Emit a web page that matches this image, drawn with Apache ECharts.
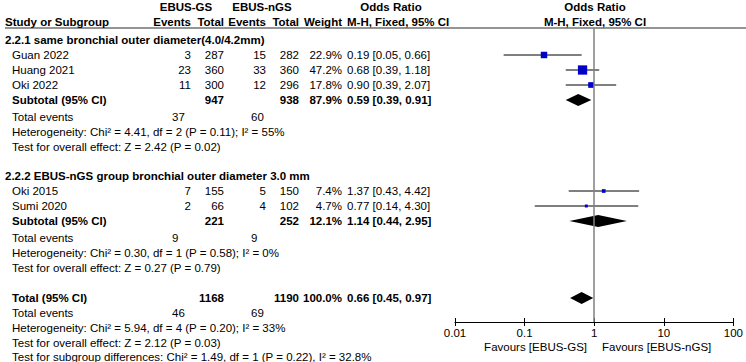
<!DOCTYPE html>
<html>
<head>
<meta charset="utf-8">
<script src="https://cdn.jsdelivr.net/npm/echarts@6/dist/echarts.min.js"></script>
<style>
html, body { margin: 0; padding: 0; background: #fff; }
#main { width: 746px; height: 362px; }
</style>
</head>
<body>
<div id="main"></div>
<script>
// study rows
const studies = ['Guan 2022', 'Huang 2021', 'Oki 2022', 'Oki 2015', 'Sumi 2020'];
const studyGroup = [0, 0, 0, 1, 1];
const gsEvents = [3, 23, 11, 7, 2];
const gsTotal = [287, 360, 300, 155, 66];
const ngsEvents = [15, 33, 12, 5, 4];
const ngsTotal = [282, 360, 296, 150, 102];
const weights = [22.9, 47.2, 17.8, 7.4, 4.7];
const oddsRatio = [0.19, 0.68, 0.90, 1.37, 0.77];
const ciLow = [0.05, 0.39, 0.39, 0.43, 0.14];
const ciHigh = [0.66, 1.18, 2.07, 4.42, 4.30];

// subgroups
const groupTitles = ['2.2.1 same bronchial outer diameter(4.0/4.2mm)', '2.2.2 EBUS-nGS group bronchial outer diameter 3.0 mm'];
const groupGsTotal = [947, 221];
const groupNgsTotal = [938, 252];
const groupWeight = [87.9, 12.1];
const groupOR = [0.59, 1.14];
const groupLow = [0.39, 0.44];
const groupHigh = [0.91, 2.95];
const groupGsEvents = [37, 9];
const groupNgsEvents = [60, 9];
const groupHet = ['Chi² = 4.41, df = 2 (P = 0.11); I² = 55%', 'Chi² = 0.30, df = 1 (P = 0.58); I² = 0%'];
const groupZ = ['Z = 2.42 (P = 0.02)', 'Z = 0.27 (P = 0.79)'];

// overall
const totalGs = 1168, totalNgs = 1190, totalWeight = 100.0;
const totalOR = 0.66, totalLow = 0.45, totalHigh = 0.97;
const totalGsEvents = 46, totalNgsEvents = 69;
const totalHet = 'Chi² = 5.94, df = 4 (P = 0.20); I² = 33%';
const totalZ = 'Z = 2.12 (P = 0.03)';
const subgroupDiff = 'Chi² = 1.49, df = 1 (P = 0.22), I² = 32.8%';

const tickLabels = ['0.01', '0.1', '1', '10', '100'];
const favours = ['Favours [EBUS-GS]', 'Favours [EBUS-nGS]'];

// layout: vertical position (px) of each text line, top to bottom
const lineY = [7, 22, 40, 55, 70, 85, 100, 117, 132, 147, 176, 191, 206, 221, 238, 253, 268, 298, 313, 328, 343, 357];
const col = { name: 12, head: 5, ev1: 191, tot1: 224, ev2: 266, tot2: 299, wt: 342, or: 347, tev1: 172, tev2: 251 };
const FONT = '"Liberation Sans", Arial, sans-serif';
const FS = 11.5;

function fmtOR(o, l, h) {
    return o.toFixed(2) + ' [' + l.toFixed(2) + ', ' + h.toFixed(2) + ']';
}

// build table cells + plot rows
var cells = [];
var studyRows = [];
var diamondRows = [];
function cell(x, y, text, align, bold) {
    cells.push({ value: [x, y], text: String(text), align: align, bold: !!bold });
}

cell(186, lineY[0], 'EBUS-GS', 'center', true);
cell(262, lineY[0], 'EBUS-nGS', 'center', true);
cell(391, lineY[0], 'Odds Ratio', 'center', true);
cell(595, lineY[0], 'Odds Ratio', 'center', true);
cell(col.head, lineY[1], 'Study or Subgroup', 'left', true);
cell(col.ev1, lineY[1], 'Events', 'right', true);
cell(col.tot1, lineY[1], 'Total', 'right', true);
cell(col.ev2, lineY[1], 'Events', 'right', true);
cell(col.tot2, lineY[1], 'Total', 'right', true);
cell(col.wt, lineY[1], 'Weight', 'right', true);
cell(col.or, lineY[1], 'M-H, Fixed, 95% CI', 'left', true);
cell(595, lineY[1], 'M-H, Fixed, 95% CI', 'center', true);

var k = 2;
for (let g = 0; g < groupTitles.length; g++) {
    cell(col.head, lineY[k++], groupTitles[g], 'left', true);
    for (let i = 0; i < studies.length; i++) {
        if (studyGroup[i] !== g) continue;
        var y = lineY[k++];
        cell(col.name, y, studies[i], 'left');
        cell(col.ev1, y, gsEvents[i], 'right');
        cell(col.tot1, y, gsTotal[i], 'right');
        cell(col.ev2, y, ngsEvents[i], 'right');
        cell(col.tot2, y, ngsTotal[i], 'right');
        cell(col.wt, y, weights[i].toFixed(1) + '%', 'right');
        cell(col.or, y, fmtOR(oddsRatio[i], ciLow[i], ciHigh[i]), 'left');
        studyRows.push([oddsRatio[i], y, ciLow[i], ciHigh[i], weights[i]]);
    }
    var ys = lineY[k++];
    cell(col.name, ys, 'Subtotal (95% CI)', 'left', true);
    cell(col.tot1, ys, groupGsTotal[g], 'right', true);
    cell(col.tot2, ys, groupNgsTotal[g], 'right', true);
    cell(col.wt, ys, groupWeight[g].toFixed(1) + '%', 'right', true);
    cell(col.or, ys, fmtOR(groupOR[g], groupLow[g], groupHigh[g]), 'left', true);
    diamondRows.push([groupOR[g], ys, groupLow[g], groupHigh[g]]);
    var ye = lineY[k++];
    cell(col.name, ye, 'Total events', 'left');
    cell(col.tev1, ye, groupGsEvents[g], 'left');
    cell(col.tev2, ye, groupNgsEvents[g], 'left');
    cell(col.name, lineY[k++], 'Heterogeneity: ' + groupHet[g], 'left');
    cell(col.name, lineY[k++], 'Test for overall effect: ' + groupZ[g], 'left');
}
var yt = lineY[k++];
cell(col.name, yt, 'Total (95% CI)', 'left', true);
cell(col.tot1, yt, totalGs, 'right', true);
cell(col.tot2, yt, totalNgs, 'right', true);
cell(col.wt, yt, totalWeight.toFixed(1) + '%', 'right', true);
cell(col.or, yt, fmtOR(totalOR, totalLow, totalHigh), 'left', true);
diamondRows.push([totalOR, yt, totalLow, totalHigh]);
var yte = lineY[k++];
cell(col.name, yte, 'Total events', 'left');
cell(col.tev1, yte, totalGsEvents, 'left');
cell(col.tev2, yte, totalNgsEvents, 'left');
cell(col.name, lineY[k++], 'Heterogeneity: ' + totalHet, 'left');
cell(col.name, lineY[k++], 'Test for overall effect: ' + totalZ, 'left');
cell(col.name, lineY[k++], 'Test for subgroup differences: ' + subgroupDiff, 'left');

cell(587, 347, favours[0], 'right');
cell(602, 347, favours[1], 'left');

// plot area (pixels)
const plotLeft = 455, plotRight = 734, plotTop = 28, plotBottom = 322;

var option = {
    animation: false,
    graphic: [{
        type: 'line',
        shape: { x1: 5, y1: plotTop, x2: 746, y2: plotTop },
        style: { stroke: '#707070', lineWidth: 1.5 },
        silent: true
    }],
    grid: [
        { left: plotLeft, width: plotRight - plotLeft, top: plotTop, height: plotBottom - plotTop },
        { left: 0, top: 0, width: 746, height: 362 }
    ],
    xAxis: [
        {
            type: 'log', logBase: 10, min: 0.01, max: 100, gridIndex: 0,
            axisLine: { lineStyle: { color: '#000', width: 1 } },
            axisTick: { length: 4, lineStyle: { color: '#000' } },
            axisLabel: {
                color: '#000', fontFamily: FONT, fontSize: FS, margin: 5,
                formatter: function (v) { return tickLabels[Math.round(Math.log10(v)) + 2]; }
            },
            splitLine: { show: false }
        },
        {
            type: 'log', logBase: 10, min: 0.01, max: 100, gridIndex: 0, position: 'bottom',
            axisLine: { show: false },
            axisTick: { inside: true, length: 4, lineStyle: { color: '#000' } },
            axisLabel: { show: false },
            splitLine: { show: false }
        },
        { type: 'value', min: 0, max: 746, gridIndex: 1, show: false }
    ],
    yAxis: [
        { type: 'value', inverse: true, min: plotTop, max: plotBottom, gridIndex: 0, show: false },
        { type: 'value', inverse: true, min: 0, max: 362, gridIndex: 1, show: false }
    ],
    series: [
        {
            name: 'studies',
            type: 'custom',
            xAxisIndex: 0, yAxisIndex: 0,
            data: studyRows,
            encode: { x: [0, 2, 3], y: 1 },
            renderItem: function (params, api) {
                var c = api.coord([api.value(0), api.value(1)]);
                var a = api.coord([api.value(2), api.value(1)]);
                var b = api.coord([api.value(3), api.value(1)]);
                var s = 13.5 * Math.sqrt(api.value(4) / 100);
                return {
                    type: 'group',
                    children: [
                        { type: 'line', shape: { x1: a[0], y1: a[1], x2: b[0], y2: b[1] }, style: { stroke: '#000', lineWidth: 1 } },
                        { type: 'rect', shape: { x: c[0] - s / 2, y: c[1] - s / 2, width: s, height: s }, style: { fill: '#0000c8' } }
                    ]
                };
            },
            markLine: {
                silent: true, symbol: 'none', label: { show: false },
                lineStyle: { color: '#808080', width: 1.5, type: 'solid' },
                data: [{ xAxis: 1 }]
            },
            z: 3
        },
        {
            name: 'pooled',
            type: 'custom',
            xAxisIndex: 0, yAxisIndex: 0,
            data: diamondRows,
            encode: { x: [0, 2, 3], y: 1 },
            renderItem: function (params, api) {
                var c = api.coord([api.value(0), api.value(1)]);
                var a = api.coord([api.value(2), api.value(1)]);
                var b = api.coord([api.value(3), api.value(1)]);
                var h = 6;
                return {
                    type: 'polygon',
                    shape: { points: [[a[0], a[1]], [c[0], c[1] - h], [b[0], b[1]], [c[0], c[1] + h]] },
                    style: { fill: '#000' }
                };
            },
            z: 4
        },
        {
            name: 'table',
            type: 'custom',
            xAxisIndex: 2, yAxisIndex: 1,
            data: cells.map(function (d) { return d.value; }),
            renderItem: function (params, api) {
                var d = cells[params.dataIndex];
                var p = api.coord([api.value(0), api.value(1)]);
                return {
                    type: 'text',
                    x: p[0], y: p[1],
                    style: {
                        text: d.text,
                        fill: '#000',
                        font: (d.bold ? 'bold ' : '') + FS + 'px ' + FONT,
                        align: d.align,
                        verticalAlign: 'middle'
                    }
                };
            },
            silent: true,
            z: 5
        }
    ]
};

var myChart = echarts.init(document.getElementById('main'), null, { renderer: 'svg' });
myChart.setOption(option);
</script>
</body>
</html>
